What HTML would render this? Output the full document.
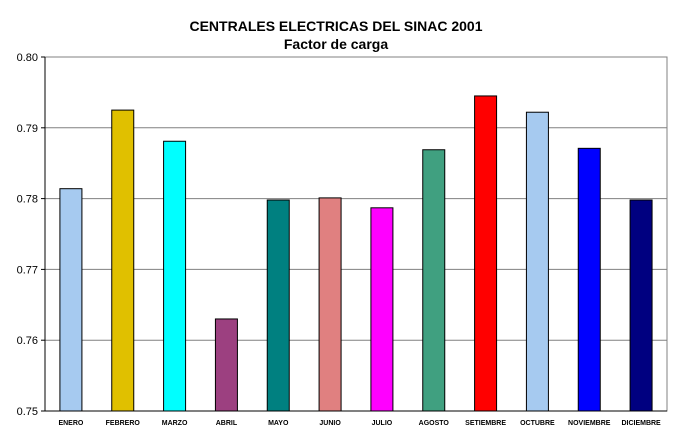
<!DOCTYPE html>
<html><head><meta charset="utf-8"><style>
body{margin:0;background:#fff;}
svg{display:block;font-family:"Liberation Sans",Arial,sans-serif;}
</style></head><body>
<svg id="chart" width="675" height="436">
<text x="336" y="31" text-anchor="middle" font-size="14" font-weight="bold">CENTRALES ELECTRICAS DEL SINAC 2001</text>
<text x="336" y="49" text-anchor="middle" font-size="14" font-weight="bold">Factor de carga</text>
<g id="grid"></g><g id="bars"></g><g id="axes"></g>
</svg>
<script>
const categories=["ENERO","FEBRERO","MARZO","ABRIL","MAYO","JUNIO","JULIO","AGOSTO","SETIEMBRE","OCTUBRE","NOVIEMBRE","DICIEMBRE"];
const values=[0.7814,0.7925,0.7881,0.7630,0.7798,0.7801,0.7787,0.7869,0.7945,0.7922,0.7871,0.7798];
const colors=["#a6caf0","#e0c000","#00ffff","#9c4080","#008080","#e08080","#ff00ff","#40a080","#ff0000","#a6caf0","#0000ff","#000080"];
const ticks=[0.75,0.76,0.77,0.78,0.79,0.80];
const tickLabels=["0.75","0.76","0.77","0.78","0.79","0.80"];
const L=45,R=667,T=57,B=411,yMin=0.75,yMax=0.80;
const ns="http://www.w3.org/2000/svg";
function y(v){return B-(v-yMin)/(yMax-yMin)*(B-T);}
const band=(R-L)/categories.length;
function xc(i){return L+band*(i+0.5);}
function mk(tag,attrs,parent,text){const e=document.createElementNS(ns,tag);for(const k in attrs)e.setAttribute(k,attrs[k]);if(text!==undefined)e.textContent=text;document.getElementById(parent).appendChild(e);return e;}
const g=document.getElementById('grid');
ticks.forEach((t,i)=>{
 const ln=mk('line',{x1:L,x2:R,y1:y(t),y2:y(t),stroke:'#808080','stroke-width':1},'grid');
 
 
 const tk=mk('line',{x1:L-4,x2:L,y1:y(t),y2:y(t),stroke:'#000'},'axes');
 
 
 const lb=mk('text',{x:L-7,y:y(t)+4,'text-anchor':'end','font-size':11},'axes',tickLabels[i]);
 
 
});
const fr=mk('rect',{x:L,y:T,width:R-L,height:B-T,fill:'none',stroke:'#808080'},'grid');


categories.forEach((c,i)=>{
 const w=22,top=y(values[i]);
 const r=mk('rect',{x:xc(i)-w/2,y:top,width:w,height:B-top,fill:colors[i],stroke:'#000','stroke-width':1},'bars');
 
 
 const lb=mk('text',{x:xc(i),y:B+14,'text-anchor':'middle','font-size':7,'font-weight':'bold'},'axes',c);
 
 
});
const ya=mk('line',{x1:L,x2:L,y1:T,y2:B,stroke:'#000'},'axes');


const xa=mk('line',{x1:L,x2:R,y1:B,y2:B,stroke:'#000'},'axes');


</script>
</body></html>
